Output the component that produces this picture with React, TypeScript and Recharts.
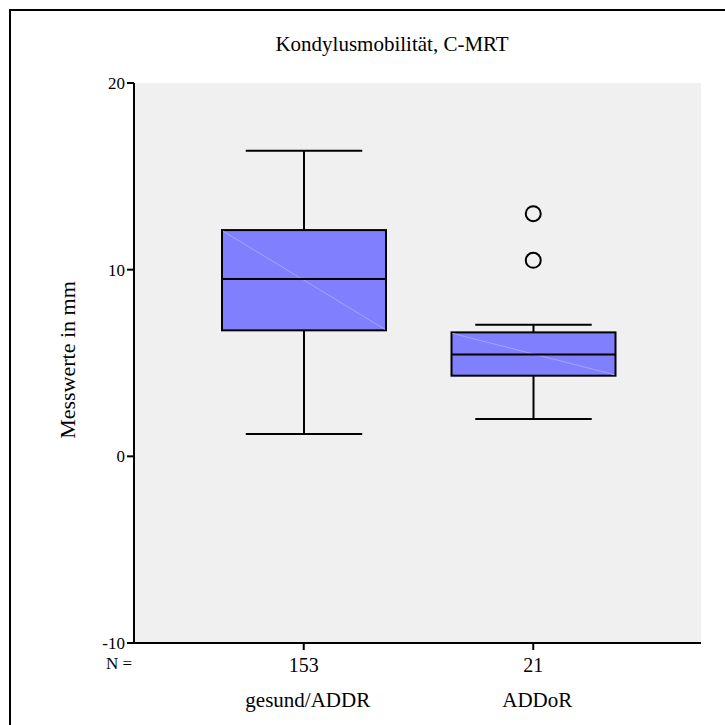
import React from 'react';
import {
  ComposedChart,
  Bar,
  Scatter,
  XAxis,
  YAxis,
  CartesianGrid,
} from 'recharts';

// Kondylusmobilität, C-MRT – boxplot values
const categories = ['gesund/ADDR', 'ADDoR'];
const counts = [153, 21];
const mins = [1.2, 2.0];
const q1s = [6.75, 4.32];
const medians = [9.5, 5.45];
const q3s = [12.12, 6.64];
const maxs = [16.37, 7.05];
const outliersHigh = [null, 13.0];
const outliersLow = [null, 10.5];
const yTicks = [-10, 0, 10, 20];

const FONT = '"Liberation Serif", "Times New Roman", serif';

const data = categories.map((name, i) => ({
  name,
  n: counts[i],
  min: mins[i],
  q1: q1s[i],
  median: medians[i],
  q3: q3s[i],
  max: maxs[i],
  range: [q1s[i], q3s[i]],
  outA: outliersHigh[i],
  outB: outliersLow[i],
}));

// draws box, median and whiskers; pixel positions derived from the bar's own scaled rect
const BoxShape = (props: any) => {
  const { x, y, width, height, payload } = props;
  if (!payload || !isFinite(y) || !isFinite(height)) return null;
  const ppu = height / (payload.q3 - payload.q1);
  const py = (v: number) => y + (payload.q3 - v) * ppu;
  const cx = x + width / 2;
  const capHalf = width * 0.355;
  const yMed = py(payload.median);
  const yMax = py(payload.max);
  const yMin = py(payload.min);
  const bottom = y + height;
  return (
    <g>
      <line x1={cx} x2={cx} y1={yMax} y2={y} stroke="#000" strokeWidth={2} />
      <line x1={cx - capHalf} x2={cx + capHalf} y1={yMax} y2={yMax} stroke="#000" strokeWidth={2} />
      <line x1={cx} x2={cx} y1={bottom} y2={yMin} stroke="#000" strokeWidth={2} />
      <line x1={cx - capHalf} x2={cx + capHalf} y1={yMin} y2={yMin} stroke="#000" strokeWidth={2} />
      <rect x={x} y={y} width={width} height={height} fill="#8080ff" stroke="#000" strokeWidth={2} />
      <line x1={x + 1} y1={y + 1} x2={x + width - 1} y2={bottom - 1} stroke="#a4a4ff" strokeWidth={1} />
      <line x1={x} x2={x + width} y1={yMed} y2={yMed} stroke="#000" strokeWidth={2} />
    </g>
  );
};

const OutlierShape = (props: any) => {
  const { cx, cy } = props;
  if (cx == null || cy == null || !isFinite(cx) || !isFinite(cy)) return <g />;
  return <circle cx={cx} cy={cy} r={7.5} fill="none" stroke="#000" strokeWidth={2} />;
};

const CategoryTick = (props: any) => {
  const { x, y, payload, index } = props;
  return (
    <g>
      <text x={x} y={y + 20} textAnchor="middle" fontFamily={FONT} style={{ fontFamily: FONT }} fontSize={20} fill="#000">
        {counts[index]}
      </text>
      <text x={x + 4} y={y + 55} textAnchor="middle" fontFamily={FONT} style={{ fontFamily: FONT }} fontSize={21} fill="#000">
        {payload.value}
      </text>
    </g>
  );
};

const ValueTick = (props: any) => {
  const { x, y, payload } = props;
  return (
    <text x={x} y={y} dy={6} textAnchor="end" fontFamily={FONT} style={{ fontFamily: FONT }} fontSize={17} fill="#000">
      {payload.value}
    </text>
  );
};

export default function App() {
  return (
    <div
      style={{
        position: 'absolute',
        left: 0,
        top: 0,
        width: 725,
        height: 725,
        overflow: 'hidden',
        background: '#fff',
      }}
    >
      <div
        style={{
          position: 'absolute',
          left: 9,
          top: 9,
          width: 740,
          height: 740,
          borderLeft: '2px solid #000',
          borderTop: '2px solid #000',
        }}
      />
      <div
        style={{
          position: 'absolute',
          left: 0,
          width: 784,
          top: 32,
          textAlign: 'center',
          fontFamily: FONT,
          fontSize: 21,
          lineHeight: '24px',
          color: '#000',
        }}
      >
        Kondylusmobilität, C-MRT
      </div>
      <ComposedChart
        width={725}
        height={725}
        data={data}
        margin={{ top: 83, right: 24, bottom: 0, left: 0 }}
        style={{ position: 'absolute', left: 0, top: 0 }}
      >
        <CartesianGrid horizontal={false} vertical={false} fill="#f0f0f0" />
        <XAxis
          dataKey="name"
          height={82}
          padding={{ left: 55, right: 53 }}
          axisLine={{ stroke: '#000', strokeWidth: 2 }}
          tickLine={{ stroke: '#000', strokeWidth: 2 }}
          tickSize={7}
          tick={<CategoryTick />}
          interval={0}
          label={({ viewBox }: any) => (
            <text
              x={viewBox.x - 2}
              y={viewBox.y + 26}
              textAnchor="end"
              fontFamily={FONT}
              style={{ fontFamily: FONT }}
              fontSize={17}
              fill="#000"
            >
              N =
            </text>
          )}
        />
        <XAxis
          xAxisId="top"
          dataKey="name"
          orientation="top"
          height={0}
          tick={false}
          tickLine={false}
          axisLine={{ stroke: '#000', strokeWidth: 2 }}
        />
        <YAxis
          width={134}
          domain={[-10, 20]}
          ticks={yTicks}
          allowDataOverflow
          axisLine={{ stroke: '#000', strokeWidth: 2 }}
          tickLine={{ stroke: '#000', strokeWidth: 2 }}
          tickSize={7}
          tick={<ValueTick />}
          label={({ viewBox }: any) => {
            const lx = 75;
            const ly = viewBox.y + viewBox.height / 2 - 3;
            return (
              <text
                x={lx}
                y={ly}
                transform={`rotate(-90 ${lx} ${ly})`}
                textAnchor="middle"
                fontFamily={FONT}
                style={{ fontFamily: FONT }}
                fontSize={22}
                fill="#000"
              >
                Messwerte in mm
              </text>
            );
          }}
        />
        <YAxis
          yAxisId="right"
          orientation="right"
          width={0}
          domain={[-10, 20]}
          tick={false}
          tickLine={false}
          axisLine={{ stroke: '#000', strokeWidth: 2 }}
        />
        <Bar dataKey="range" barSize={164} shape={<BoxShape />} isAnimationActive={false} />
        <Scatter dataKey="outA" shape={<OutlierShape />} isAnimationActive={false} />
        <Scatter dataKey="outB" shape={<OutlierShape />} isAnimationActive={false} />
      </ComposedChart>
    </div>
  );
}
